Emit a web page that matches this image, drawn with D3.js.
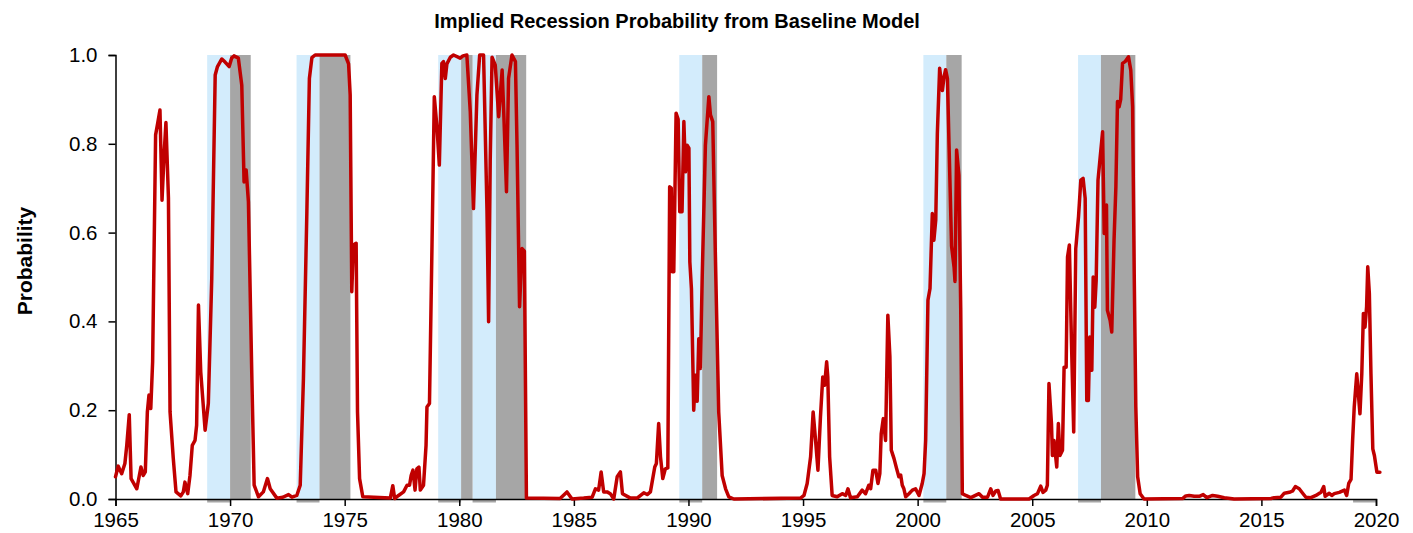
<!DOCTYPE html>
<html>
<head>
<meta charset="utf-8">
<script src="https://cdn.jsdelivr.net/npm/d3@7"></script>
<style>
  body { margin: 0; background: #fff; }
  svg text { font-family: "Liberation Sans", Arial, sans-serif; fill: #000; }
</style>
</head>
<body>
<svg id="chart" width="1413" height="533"></svg>
<script>
// recession (gray) and the 12 months before each (light blue), decimal years
const recessions = [
  [1970.0, 1970.9], [1973.9, 1975.25], [1980.08, 1980.58], [1981.6, 1982.92],
  [1990.6, 1991.25], [2001.25, 2001.92], [2008.0, 2009.5]
];
const preRecession = [
  [1969.0, 1970.0], [1972.9, 1973.9], [1979.08, 1980.08], [1980.58, 1981.6],
  [1989.6, 1990.6], [2000.25, 2001.25], [2007.0, 2008.0]
];
// little gray marks under the axis (one more for 2019)
const axisMarks = [...preRecession, [2019.0, 2020.0]];

const xTicks = [1965, 1970, 1975, 1980, 1985, 1990, 1995, 2000, 2005, 2010, 2015, 2020];
const yTicks = [0, 0.2, 0.4, 0.6, 0.8, 1.0];

// [year, probability]
const probability = [
  [1965.0,0.05],[1965.12,0.074],[1965.27,0.057],[1965.41,0.08],[1965.49,0.12],[1965.6,0.19],
  [1965.68,0.046],[1965.93,0.023],[1966.11,0.072],[1966.21,0.053],[1966.3,0.061],[1966.39,0.196],
  [1966.46,0.234],[1966.54,0.204],[1966.62,0.309],[1966.75,0.82],[1966.84,0.846],[1966.94,0.876],
  [1967.03,0.673],[1967.12,0.775],[1967.2,0.848],[1967.31,0.678],[1967.38,0.196],[1967.52,0.092],
  [1967.64,0.016],[1967.85,0.007],[1967.96,0.016],[1968.03,0.038],[1968.15,0.012],[1968.25,0.053],
  [1968.35,0.121],[1968.47,0.132],[1968.54,0.166],[1968.62,0.437],[1968.72,0.286],[1968.91,0.155],
  [1969.05,0.215],[1969.2,0.497],[1969.35,0.955],[1969.45,0.974],[1969.64,0.991],[1969.78,0.984],
  [1969.96,0.974],[1970.07,0.993],[1970.17,0.998],[1970.36,0.993],[1970.51,0.932],[1970.61,0.714],
  [1970.7,0.741],[1970.8,0.669],[1970.95,0.272],[1971.05,0.031],[1971.24,0.005],[1971.45,0.016],
  [1971.63,0.046],[1971.75,0.023],[1972.04,0.002],[1972.3,0.004],[1972.55,0.01],[1972.7,0.004],
  [1972.91,0.008],[1973.06,0.031],[1973.2,0.271],[1973.35,0.647],[1973.46,0.947],[1973.57,0.994],
  [1973.71,1.0],[1975.02,1.0],[1975.17,0.98],[1975.24,0.91],[1975.31,0.467],[1975.38,0.572],
  [1975.5,0.576],[1975.56,0.196],[1975.65,0.046],[1975.79,0.005],[1976.99,0.002],[1977.1,0.03],
  [1977.18,0.001],[1977.35,0.008],[1977.57,0.016],[1977.72,0.031],[1977.83,0.031],[1977.9,0.053],
  [1977.98,0.065],[1978.07,0.02],[1978.15,0.068],[1978.24,0.072],[1978.3,0.02],[1978.44,0.031],
  [1978.55,0.121],[1978.59,0.207],[1978.7,0.215],[1978.81,0.572],[1978.91,0.906],[1979.03,0.835],
  [1979.13,0.752],[1979.24,0.981],[1979.31,0.985],[1979.39,0.947],[1979.46,0.98],[1979.61,0.995],
  [1979.75,1.0],[1980.04,0.993],[1980.16,0.998],[1980.33,1.0],[1980.48,0.872],[1980.62,0.654],
  [1980.77,0.91],[1980.89,1.0],[1981.06,1.0],[1981.21,0.647],[1981.28,0.399],[1981.35,0.76],
  [1981.43,0.995],[1981.57,0.977],[1981.72,0.861],[1981.79,0.91],[1981.87,0.966],[1981.94,0.872],
  [1982.06,0.692],[1982.15,0.947],[1982.3,1.0],[1982.45,0.985],[1982.52,0.797],[1982.63,0.433],
  [1982.74,0.564],[1982.84,0.558],[1982.93,0.002],[1984.4,0.001],[1984.7,0.016],[1984.92,0.0],
  [1985.43,0.002],[1985.8,0.004],[1985.94,0.023],[1986.08,0.02],[1986.19,0.061],[1986.3,0.016],
  [1986.45,0.016],[1986.59,0.012],[1986.74,0.0],[1986.89,0.05],[1987.03,0.061],[1987.12,0.012],
  [1987.47,0.002],[1987.76,0.002],[1988.05,0.014],[1988.2,0.01],[1988.34,0.016],[1988.53,0.072],
  [1988.6,0.08],[1988.7,0.17],[1988.78,0.095],[1988.88,0.046],[1988.99,0.068],[1989.1,0.07],
  [1989.18,0.703],[1989.25,0.7],[1989.29,0.512],[1989.36,0.512],[1989.46,0.869],[1989.55,0.855],
  [1989.62,0.647],[1989.72,0.647],[1989.8,0.85],[1989.87,0.737],[1989.94,0.797],[1990.02,0.79],
  [1990.06,0.534],[1990.13,0.474],[1990.23,0.2],[1990.3,0.279],[1990.38,0.22],[1990.45,0.361],
  [1990.52,0.294],[1990.6,0.5],[1990.74,0.797],[1990.89,0.906],[1990.96,0.865],[1991.06,0.85],
  [1991.18,0.534],[1991.32,0.196],[1991.47,0.053],[1991.62,0.023],[1991.76,0.005],[1991.98,0.0],
  [1994.89,0.002],[1995.04,0.008],[1995.18,0.035],[1995.33,0.095],[1995.44,0.196],[1995.55,0.13],
  [1995.65,0.065],[1995.76,0.185],[1995.86,0.275],[1995.94,0.256],[1996.03,0.309],[1996.08,0.275],
  [1996.16,0.095],[1996.27,0.008],[1996.49,0.005],[1996.71,0.012],[1996.86,0.008],[1996.96,0.023],
  [1997.07,0.003],[1997.37,0.005],[1997.58,0.02],[1997.73,0.012],[1997.87,0.031],[1997.95,0.023],
  [1998.05,0.065],[1998.17,0.065],[1998.27,0.035],[1998.35,0.057],[1998.41,0.147],[1998.5,0.181],
  [1998.6,0.132],[1998.7,0.414],[1998.79,0.32],[1998.85,0.11],[1998.97,0.091],[1999.08,0.069],
  [1999.18,0.05],[1999.26,0.054],[1999.33,0.031],[1999.4,0.023],[1999.48,0.005],[1999.62,0.012],
  [1999.77,0.02],[1999.91,0.023],[2000.06,0.008],[2000.2,0.035],[2000.28,0.057],[2000.35,0.132],
  [2000.45,0.448],[2000.54,0.474],[2000.64,0.643],[2000.71,0.583],[2000.79,0.628],[2000.86,0.823],
  [2000.96,0.97],[2001.08,0.92],[2001.15,0.95],[2001.22,0.967],[2001.3,0.947],[2001.37,0.797],
  [2001.48,0.57],[2001.59,0.522],[2001.63,0.49],[2001.7,0.786],[2001.8,0.73],[2001.88,0.43],
  [2001.95,0.012],[2002.1,0.008],[2002.32,0.003],[2002.68,0.012],[2002.83,0.004],[2003.05,0.004],
  [2003.19,0.023],[2003.29,0.008],[2003.41,0.018],[2003.51,0.019],[2003.62,0.0],[2004.86,0.0],
  [2005.08,0.008],[2005.23,0.012],[2005.37,0.029],[2005.47,0.015],[2005.59,0.02],[2005.66,0.031],
  [2005.73,0.26],[2005.84,0.17],[2005.88,0.098],[2005.95,0.132],[2006.07,0.072],[2006.14,0.17],
  [2006.21,0.098],[2006.32,0.11],[2006.39,0.297],[2006.48,0.297],[2006.54,0.545],[2006.62,0.572],
  [2006.71,0.358],[2006.81,0.151],[2006.9,0.564],[2007.02,0.636],[2007.12,0.718],[2007.22,0.722],
  [2007.31,0.677],[2007.38,0.222],[2007.45,0.222],[2007.51,0.365],[2007.6,0.29],[2007.66,0.5],
  [2007.73,0.432],[2007.79,0.492],[2007.87,0.718],[2007.96,0.767],[2008.07,0.827],[2008.14,0.598],
  [2008.24,0.662],[2008.28,0.425],[2008.4,0.402],[2008.47,0.376],[2008.57,0.583],[2008.65,0.703],
  [2008.72,0.895],[2008.79,0.883],[2008.86,0.9],[2008.94,0.981],[2009.05,0.985],[2009.2,0.996],
  [2009.3,0.966],[2009.38,0.883],[2009.45,0.508],[2009.52,0.207],[2009.6,0.05],[2009.71,0.012],
  [2009.88,0.0],[2011.56,0.001],[2011.7,0.007],[2011.85,0.008],[2012.07,0.006],[2012.29,0.006],
  [2012.46,0.01],[2012.62,0.003],[2012.87,0.008],[2013.09,0.006],[2013.38,0.003],[2013.81,0.0],
  [2015.42,0.001],[2015.56,0.003],[2015.85,0.004],[2016.0,0.013],[2016.22,0.015],[2016.36,0.018],
  [2016.48,0.028],[2016.65,0.023],[2016.8,0.013],[2016.94,0.004],[2017.16,0.003],[2017.38,0.008],
  [2017.6,0.015],[2017.72,0.028],[2017.78,0.006],[2017.96,0.013],[2018.07,0.008],[2018.18,0.012],
  [2018.4,0.015],[2018.62,0.02],[2018.72,0.008],[2018.81,0.035],[2018.91,0.044],[2018.98,0.132],
  [2019.05,0.207],[2019.16,0.282],[2019.23,0.237],[2019.3,0.192],[2019.38,0.282],[2019.45,0.418],
  [2019.52,0.387],[2019.59,0.433],[2019.64,0.523],[2019.71,0.463],[2019.78,0.282],[2019.86,0.113],
  [2019.93,0.098],[2020.04,0.06],[2020.17,0.06]
];

const width = 1413, height = 533;
const margin = { top: 55, right: 37, bottom: 34, left: 115.5 };

const svg = d3.select('#chart');

const x = d3.scaleLinear().domain([1965, 2020]).range([margin.left, width - margin.right]);
const y = d3.scaleLinear().domain([0, 1]).range([height - margin.bottom, margin.top]);

// Shading
const bands = svg.append('g').attr('class', 'bands');
bands.selectAll('rect.pre').data(preRecession).join('rect')
  .attr('class', 'pre')
  .attr('x', d => x(d[0])).attr('width', d => x(d[1]) - x(d[0]))
  .attr('y', y(1)).attr('height', y(0) - y(1))
  .attr('fill', '#d3ecfc');
bands.selectAll('rect.rec').data(recessions).join('rect')
  .attr('class', 'rec')
  .attr('x', d => x(d[0])).attr('width', d => x(d[1]) - x(d[0]))
  .attr('y', y(1)).attr('height', y(0) - y(1))
  .attr('fill', '#a6a6a6');
bands.selectAll('rect.mark').data(axisMarks).join('rect')
  .attr('class', 'mark')
  .attr('x', d => x(d[0])).attr('width', d => x(d[1]) - x(d[0]))
  .attr('y', y(0)).attr('height', 3.5)
  .attr('fill', '#a6a6a6');

// Axes
const xAxis = svg.append('g')
  .attr('transform', `translate(0,${y(0)})`)
  .call(d3.axisBottom(x).tickValues(xTicks).tickFormat(d3.format('d')).tickSizeOuter(0).tickSize(7).tickPadding(6));
const yAxis = svg.append('g')
  .attr('transform', `translate(${margin.left},0)`)
  .call(d3.axisLeft(y).tickValues(yTicks).tickFormat(d3.format('.1f')).tickSizeOuter(0).tickSize(7).tickPadding(11));

[xAxis, yAxis].forEach(a => {
  a.select('.domain').attr('stroke', '#000').attr('stroke-width', 1.5);
  a.selectAll('.tick line').attr('stroke', '#000').attr('stroke-width', 1.5);
  a.selectAll('.tick text').attr('font-size', 20.5).attr('fill', '#000')
    .style('font-family', '"Liberation Sans", Arial, sans-serif');
});

// Line
const line = d3.line().x(d => x(d[0])).y(d => y(d[1]));
svg.append('path').datum(probability)
  .attr('d', line)
  .attr('fill', 'none')
  .attr('stroke', '#c00000')
  .attr('stroke-width', 3.5)
  .attr('stroke-linejoin', 'round')
  .attr('stroke-linecap', 'round');

// Titles
svg.append('text')
  .attr('x', 677).attr('y', 28)
  .attr('text-anchor', 'middle')
  .attr('font-size', 20).attr('font-weight', 'bold')
  .text('Implied Recession Probability from Baseline Model');

svg.append('text')
  .attr('transform', `translate(32,261) rotate(-90)`)
  .attr('text-anchor', 'middle')
  .attr('font-size', 21).attr('font-weight', 'bold')
  .text('Probability');
</script>
</body>
</html>
